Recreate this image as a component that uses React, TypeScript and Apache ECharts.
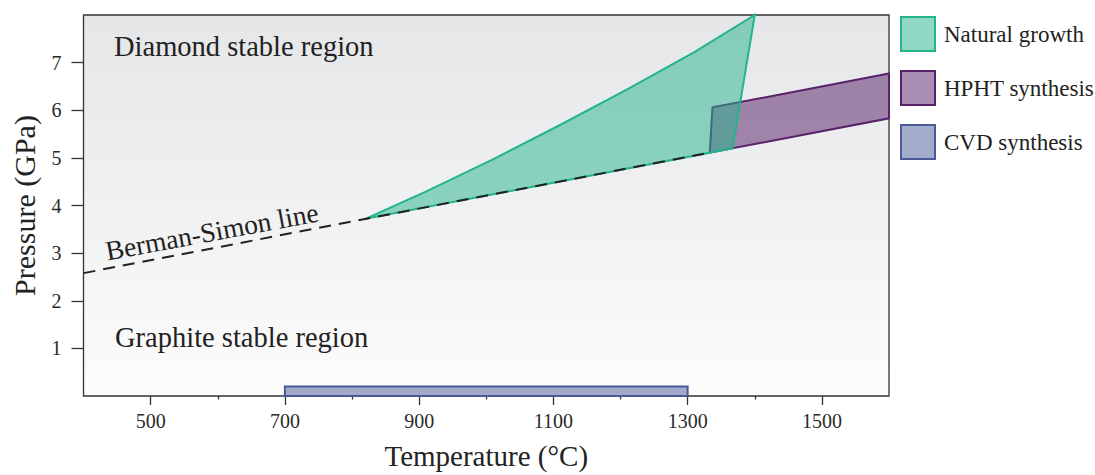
import React, { useEffect, useRef } from "react";
import * as echarts from "echarts";

// Temperature (°C), Pressure (GPa)
const bermanSimon: number[][] = [
  [400, 2.58],
  [1333, 5.11],
];
const naturalGrowth: number[][] = [
  [820, 3.72],
  [910, 4.29],
  [1010, 4.97],
  [1110, 5.69],
  [1210, 6.44],
  [1310, 7.22],
  [1400, 8.0],
  [1367, 5.2],
  [820, 3.72],
];
const hphtSynthesis: number[][] = [
  [1333, 5.11],
  [1337, 6.06],
  [1600, 6.77],
  [1600, 5.83],
];
const cvdSynthesis: number[][] = [
  [700, 0],
  [700, 0.2],
  [1300, 0.2],
  [1300, 0],
];
const xMajorTicks = [500, 700, 900, 1100, 1300, 1500];
const xMinorTicks = [600, 800, 1000, 1200, 1400];
const yTicks = [1, 2, 3, 4, 5, 6, 7];
const seriesNames = ["Natural growth", "HPHT synthesis", "CVD synthesis"];

const FONT = "Liberation Serif";
const C_NAT = "#23b48b";
const F_NAT = "rgba(35,180,139,0.5)";
const C_HPHT = "#58226a";
const F_HPHT = "rgba(88,34,106,0.52)";
const C_CVD = "#4a5a98";
const F_CVD = "rgba(74,90,152,0.5)";

function polySeries(name: string, pts: number[][], fill: string, stroke: string) {
  return {
    name,
    type: "custom",
    xAxisIndex: 0,
    yAxisIndex: 0,
    data: pts,
    encode: { x: 0, y: 1 },
    itemStyle: { color: fill, borderColor: stroke, borderWidth: 2 },
    renderItem: (params: any, api: any) => {
      if (params.dataIndex !== 0) return null;
      const points = pts.map((p) => api.coord(p));
      return {
        type: "polygon",
        shape: { points },
        style: { fill, stroke, lineWidth: 2, lineJoin: "miter" },
      };
    },
  };
}

export default function App() {
  const ref = useRef<HTMLDivElement>(null);
  useEffect(() => {
    if (!ref.current) return;
    const chart = echarts.init(ref.current, null, { renderer: "svg" });
    const axisLabelStyle = {
      fontFamily: FONT,
      fontSize: 20,
      color: "#2a2a2a",
      formatter: (v: number) => String(v),
    };
    chart.setOption({
      animation: false,
      textStyle: { fontFamily: FONT },
      grid: {
        left: 83.5,
        right: 206,
        top: 15,
        bottom: 77.5,
        show: true,
        borderColor: "#333",
        borderWidth: 1.3,
        backgroundColor: {
          type: "linear",
          x: 0,
          y: 0,
          x2: 0,
          y2: 1,
          colorStops: [
            { offset: 0, color: "#e5e6e8" },
            { offset: 1, color: "#fcfcfc" },
          ],
        },
      },
      legend: {
        orient: "vertical",
        left: 900,
        top: 16,
        padding: 0,
        itemWidth: 34,
        itemHeight: 34,
        itemGap: 18,
        textStyle: { fontFamily: FONT, fontSize: 23, color: "#222", padding: [0, 0, 0, 4] },
        data: [
          { name: seriesNames[0], icon: "rect", itemStyle: { color: F_NAT, borderColor: C_NAT, borderWidth: 2 } },
          { name: seriesNames[1], icon: "rect", itemStyle: { color: F_HPHT, borderColor: C_HPHT, borderWidth: 2 } },
          { name: seriesNames[2], icon: "rect", itemStyle: { color: F_CVD, borderColor: C_CVD, borderWidth: 2 } },
        ],
      },
      xAxis: [
        {
          type: "value",
          min: 400,
          max: 1600,
          interval: 100,
          name: "Temperature (°C)",
          nameLocation: "middle",
          nameGap: 45,
          nameTextStyle: { fontFamily: FONT, fontSize: 29, color: "#222" },
          axisLine: { show: false },
          splitLine: { show: false },
          axisTick: { show: true, length: 9, customValues: xMajorTicks, lineStyle: { color: "#333", width: 1.3 } },
          axisLabel: { ...axisLabelStyle, margin: 15, customValues: xMajorTicks },
        },
        {
          type: "value",
          min: 400,
          max: 1600,
          interval: 100,
          position: "bottom",
          axisLine: { show: false },
          splitLine: { show: false },
          axisTick: { show: true, length: 3.5, customValues: xMinorTicks, lineStyle: { color: "#333", width: 1.3 } },
          axisLabel: { show: false },
        },
      ],
      yAxis: {
        type: "value",
        min: 0,
        max: 8,
        interval: 1,
        name: "Pressure (GPa)",
        nameLocation: "middle",
        nameGap: 44,
        nameTextStyle: { fontFamily: FONT, fontSize: 30, color: "#222" },
        axisLine: { show: false },
        splitLine: { show: false },
        axisTick: { show: true, length: 12, customValues: yTicks, lineStyle: { color: "#333", width: 1.3 } },
        axisLabel: { ...axisLabelStyle, margin: 22, customValues: yTicks },
      },
      graphic: [
        {
          type: "text",
          x: 114,
          y: 46,
          style: { text: "Diamond stable region", font: `28.5px "${FONT}"`, fill: "#222", verticalAlign: "middle", align: "left" },
        },
        {
          type: "text",
          x: 115,
          y: 337.5,
          style: { text: "Graphite stable region", font: `28.5px "${FONT}"`, fill: "#222", verticalAlign: "middle", align: "left" },
        },
        {
          type: "text",
          x: 212,
          y: 232,
          rotation: (10.5 * Math.PI) / 180,
          style: { text: "Berman-Simon line", font: `27.5px "${FONT}"`, fill: "#222", verticalAlign: "middle", align: "center" },
        },
      ],
      series: [
        polySeries(seriesNames[2], cvdSynthesis, F_CVD, C_CVD),
        polySeries(seriesNames[1], hphtSynthesis, F_HPHT, C_HPHT),
        polySeries(seriesNames[0], naturalGrowth, F_NAT, C_NAT),
        {
          name: "Berman-Simon",
          type: "line",
          data: bermanSimon,
          symbol: "none",
          lineStyle: { color: "#222", width: 2, type: [12, 8] },
          z: 5,
        },
      ],
    });
    return () => chart.dispose();
  }, []);
  return <div ref={ref} style={{ position: "absolute", left: 0, top: 0, width: 1095, height: 475 }} />;
}
